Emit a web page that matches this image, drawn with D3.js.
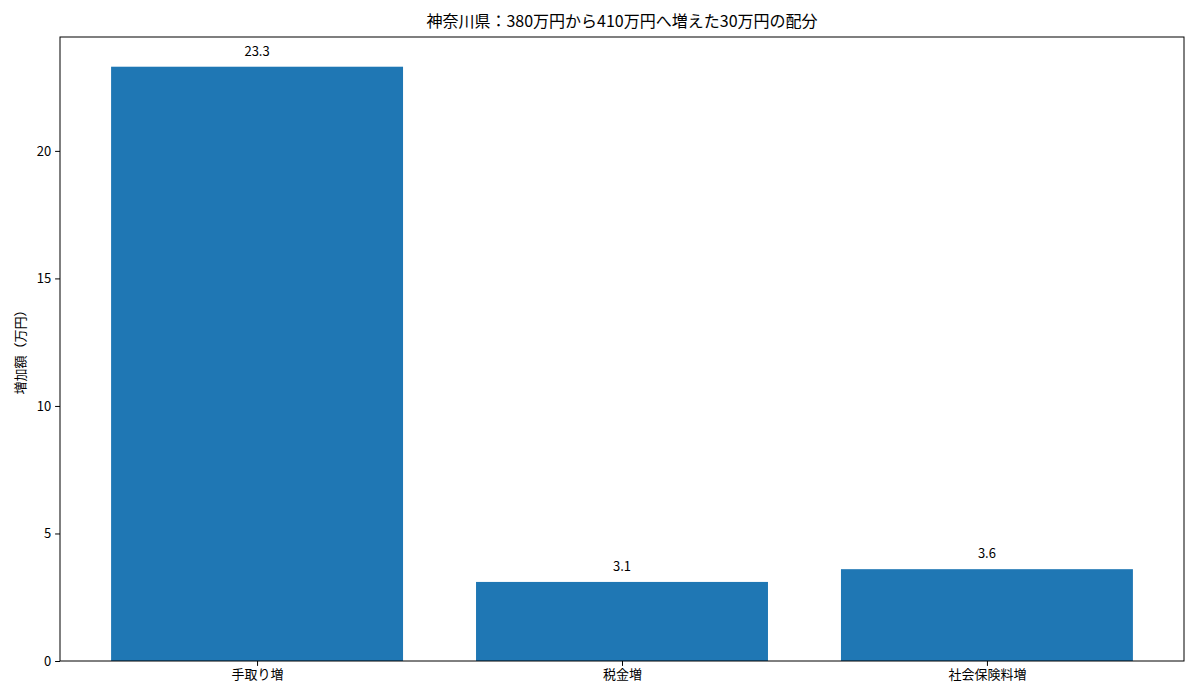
<!DOCTYPE html>
<html>
<head>
<meta charset="utf-8">
<script src="https://cdn.jsdelivr.net/npm/d3@7"></script>
<style>
  body { margin: 0; background: #fff; }
  text { font-family: "Noto Sans CJK JP", "Noto Sans", sans-serif; fill: #000; }
</style>
</head>
<body>
<div id="chart"></div>
<script>
// data
const categories = ["手取り増", "税金増", "社会保険料増"];
const values = [23.3, 3.1, 3.6];
const valueLabels = ["23.3", "3.1", "3.6"];
const yTicks = [0, 5, 10, 15, 20];
const titleText = "神奈川県：380万円から410万円へ増えた30万円の配分";
const yLabelText = "増加額（万円）";

const W = 1200, H = 700;
const margin = { top: 37, right: 16, bottom: 39, left: 60 };
const width = W - margin.left - margin.right;
const height = H - margin.top - margin.bottom;

const svg = d3.select("#chart").append("svg")
    .attr("width", W)
    .attr("height", H);

const g = svg.append("g")
    .attr("transform", "translate(" + margin.left + "," + margin.top + ")");

// matplotlib-like linear x for bars at 0,1,2 with width 0.8
const barW = 0.8;
const x = d3.scaleLinear()
    .domain([-0.54, categories.length - 1 + 0.54])
    .range([0, width]);

const y = d3.scaleLinear()
    .domain([0, d3.max(values) * 1.05])
    .range([height, 0]);

// bars
g.selectAll("rect.bar")
    .data(values)
    .enter()
    .append("rect")
    .attr("class", "bar")
    .attr("x", (d, i) => x(i - barW / 2))
    .attr("width", (d, i) => x(i + barW / 2) - x(i - barW / 2))
    .attr("y", d => y(d))
    .attr("height", d => y(0) - y(d))
    .attr("fill", "#1f77b4");

// value labels
g.selectAll("text.val")
    .data(values)
    .enter()
    .append("text")
    .attr("class", "val")
    .attr("x", (d, i) => x(i))
    .attr("y", d => y(d) - 11)
    .attr("text-anchor", "middle")
    .style("font-size", "13px")
    .text((d, i) => valueLabels[i]);

// axes
const xAxis = d3.axisBottom(x)
    .tickValues(d3.range(categories.length))
    .tickFormat(i => categories[i])
    .tickSize(4.9)
    .tickPadding(4);

const yAxis = d3.axisLeft(y)
    .tickValues(yTicks)
    .tickSize(4.9)
    .tickPadding(4);

g.append("g")
    .attr("class", "x-axis axis")
    .attr("transform", "translate(0," + height + ")")
    .call(xAxis);

g.append("g")
    .attr("class", "y-axis axis")
    .call(yAxis);

g.selectAll(".axis text").style("font-size", "13px").style("font-family", "'Noto Sans CJK JP', sans-serif");
g.selectAll(".axis .domain").remove();
g.selectAll(".axis line").attr("stroke", "#000").attr("stroke-width", 1);

// frame
g.append("rect")
    .attr("width", width)
    .attr("height", height)
    .attr("fill", "none")
    .attr("stroke", "#000")
    .attr("stroke-width", 1);

// title
svg.append("text")
    .attr("x", margin.left + width / 2)
    .attr("y", 27)
    .attr("text-anchor", "middle")
    .style("font-size", "16px")
    .text(titleText);

// y label
svg.append("text")
    .attr("transform", "translate(25," + (margin.top + height / 2) + ") rotate(-90)")
    .attr("text-anchor", "middle")
    .style("font-size", "13px")
    .text(yLabelText);
</script>
</body>
</html>
